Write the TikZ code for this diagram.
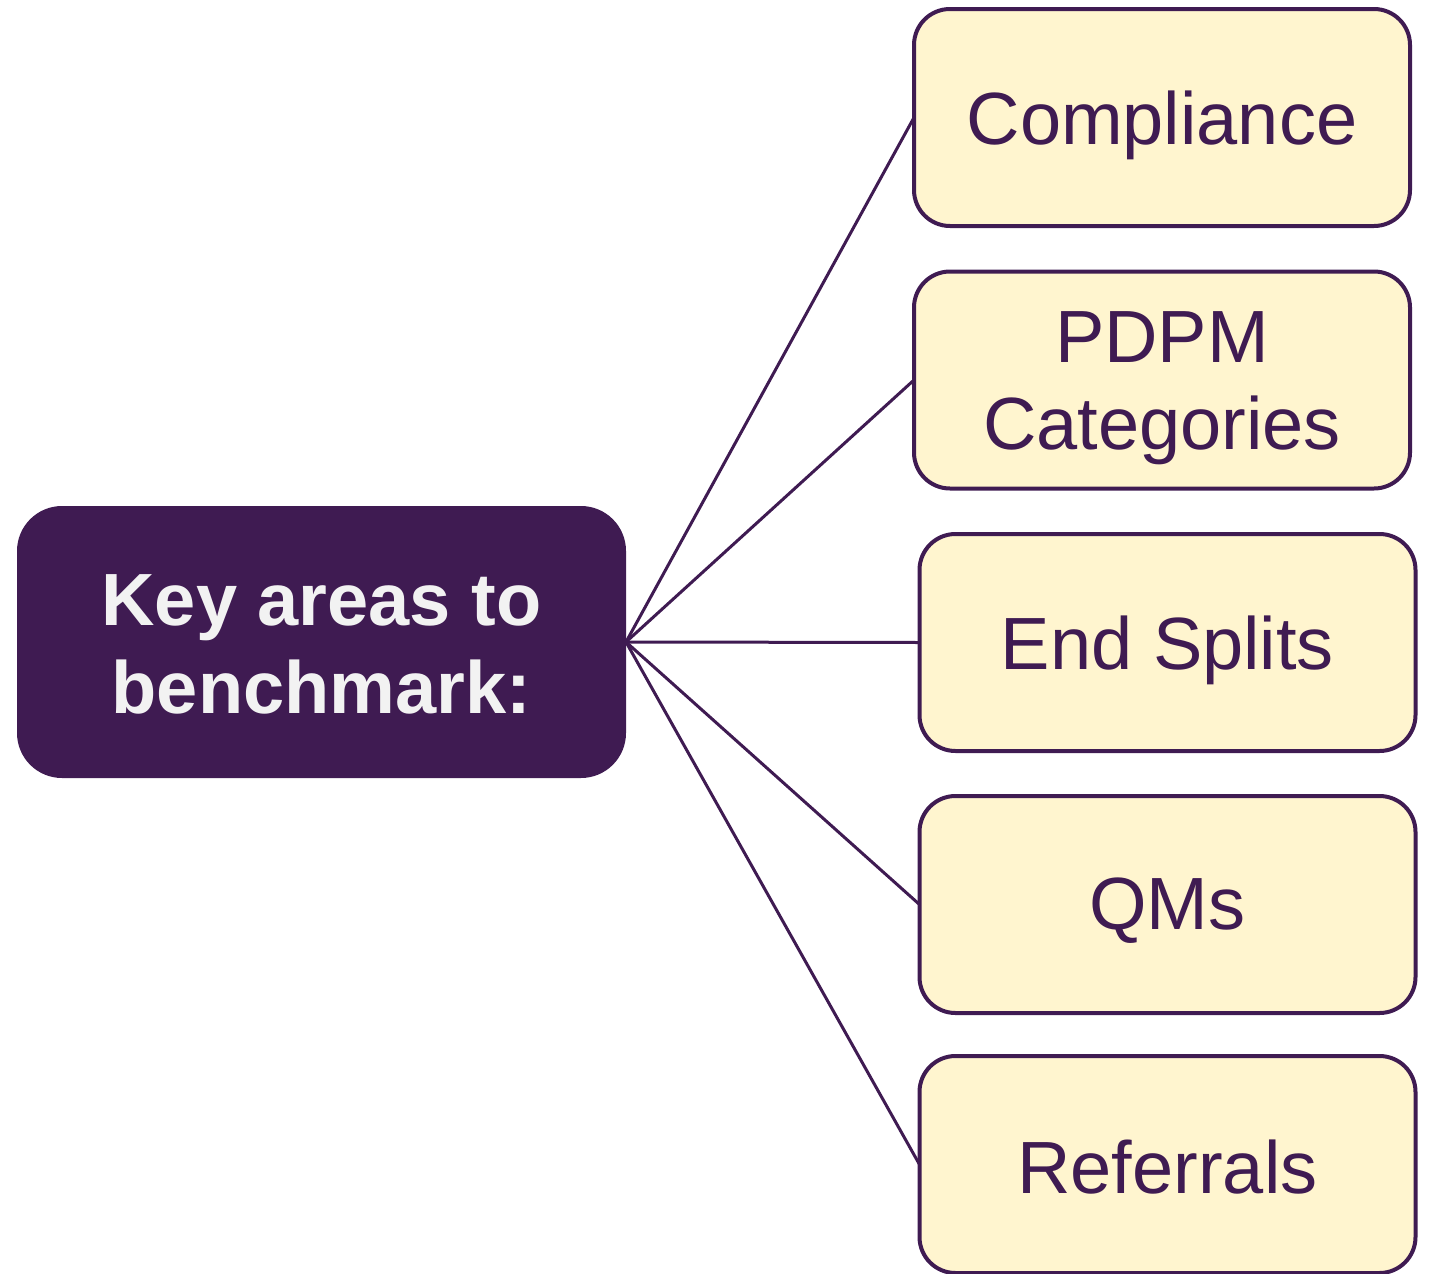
\documentclass[tikz,border=0pt]{standalone}
\usepackage{fontspec}
\setmainfont{Liberation Sans}
\begin{document}
\begin{tikzpicture}[x=1pt,y=-1pt,
  every node/.style={inner sep=0pt, outer sep=0pt},
  hub/.style={fill=deeppurple, rounded corners=45pt, minimum width=609pt,
    minimum height=272pt},
  hubtext/.style={align=center, text=offwhite,
    font=\fontsize{74}{88}\selectfont\bfseries},
  leaf/.style={fill=cream, draw=deeppurple, line width=4pt, rounded corners=36pt,
    minimum width=496pt, minimum height=217pt},
  leaftext/.style={align=center, text=deeppurple,
    font=\fontsize{74}{87}\selectfont},
  link/.style={draw=deeppurple, line width=3pt}]
\definecolor{deeppurple}{HTML}{3F1B52}
\definecolor{cream}{HTML}{FFF5CF}
\definecolor{offwhite}{HTML}{F2F2F2}
\useasboundingbox (0,0) rectangle (1430,1274);

% central box
\node[hub] (hub) at (321.5,642) {};
\node[hubtext] (hubt) at ([yshift=-2pt]hub.center) {Key areas to\\benchmark:};

% the five areas
\foreach \n/\pos/\dy/\txt in {c1/{(1162,117.5)}/-8/Compliance,
                              c2/{(1162,380)}/-8/{PDPM\\Categories},
                              c3/{(1167.5,642.5)}/-8/End Splits,
                              c4/{(1167.5,904.5)}/-6/QMs,
                              c5/{(1167.5,1164.5)}/-3/Referrals}{
  \node[leaf] (\n) at \pos {};
  \node[leaftext] (\n t) at ([yshift=\dy pt]\n.center) {\txt};
}

% connectors
\foreach \n in {c1,c2,c3,c4,c5}
  \draw[link] (hub.east) -- (\n.west);
\end{tikzpicture}
\end{document}
